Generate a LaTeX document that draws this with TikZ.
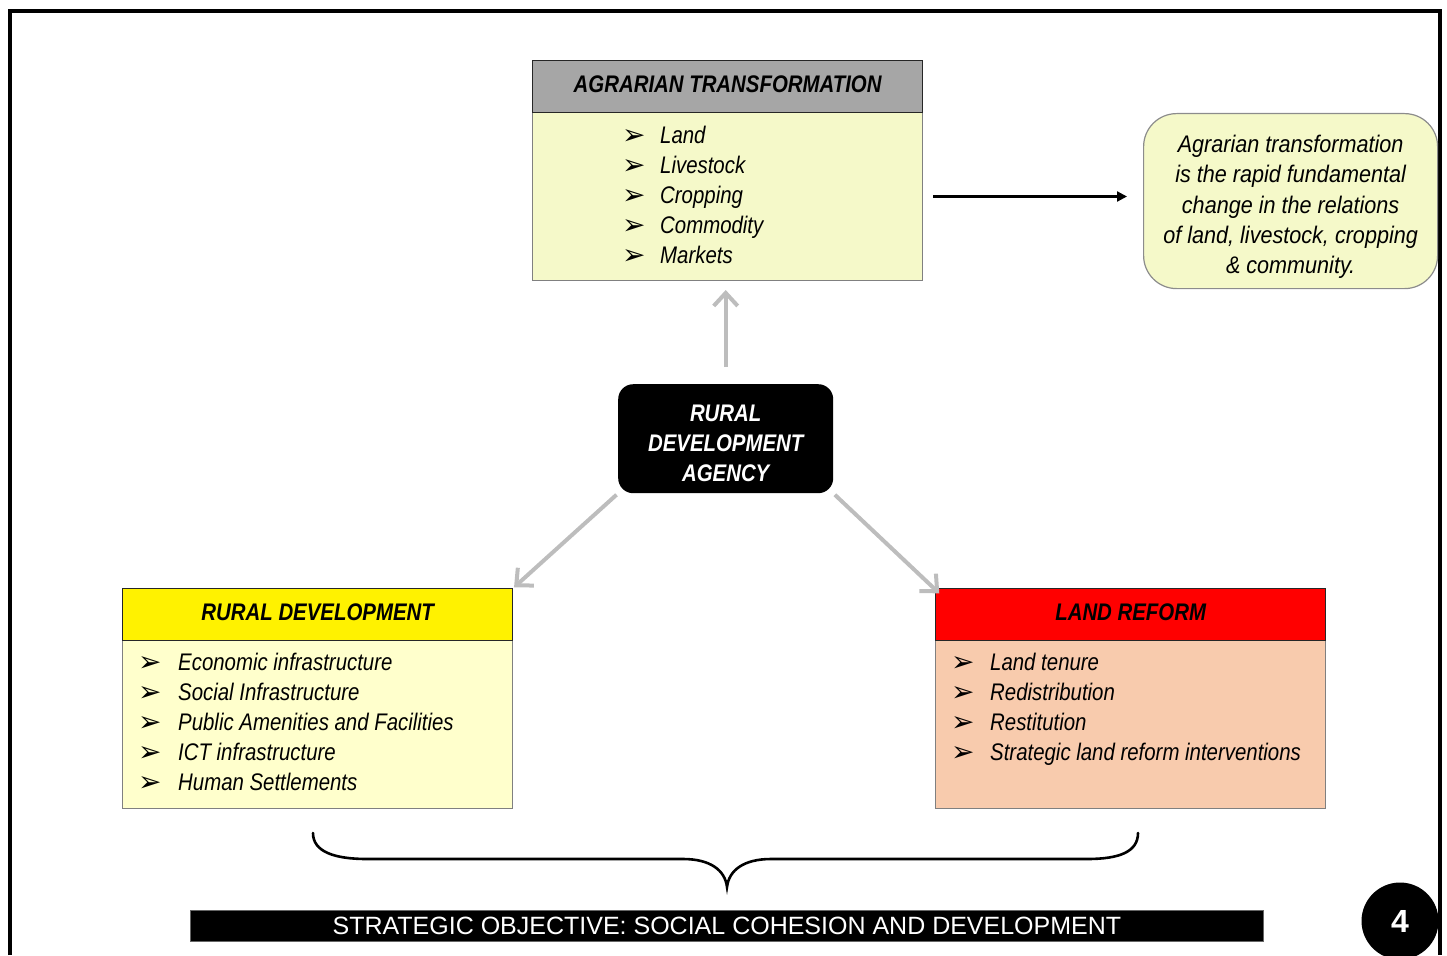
\documentclass[tikz,border=0pt]{standalone}
\usepackage{fontspec}
\setmainfont{Liberation Sans}
\newfontfamily\nf[FakeStretch=0.85]{Liberation Sans}
\newfontfamily\nfw[FakeStretch=0.9]{Liberation Sans}
\newfontfamily\bulletfont{DejaVu Sans}
\usetikzlibrary{arrows.meta}
\definecolor{hdrgray}{HTML}{A6A6A6}
\definecolor{atbody}{HTML}{F5F9C9}
\definecolor{rdbody}{HTML}{FFFFCC}
\definecolor{lrbody}{HTML}{F8CBAD}
\definecolor{arrowgray}{HTML}{BDBDBD}
\newcommand\blt{\raisebox{-1pt}{\bulletfont\fontsize{28}{28}\selectfont ➢}}
\begin{document}
\begin{tikzpicture}[x=1pt,y=-1pt,
  hdr/.style={draw=black!85, line width=1.3pt, minimum width=390pt, minimum height=52pt,
    anchor=north west, inner sep=0pt, text height=17.2pt, text depth=6pt,
    font=\nf\bfseries\itshape\fontsize{24}{30}\selectfont},
  bodybox/.style={draw=black!50, line width=1pt, minimum width=390pt, anchor=north west, inner sep=0pt},
  itemlist/.style={anchor=base west, inner sep=0pt, font=\nf\itshape\fontsize{24}{30}\selectfont},
  grayarrow/.style={draw=arrowgray, line width=4pt, -{Straight Barb[length=13pt,width=24pt]}},
  blackarrow/.style={draw=black, line width=2.2pt, -{Triangle[length=10pt,width=10pt]}}
]
\useasboundingbox (0,0) rectangle (1447,955);
% frame
\draw[line width=3.5pt] (10,955) -- (10,11) -- (1440,11) -- (1440,955);

% Agrarian transformation
\node[bodybox, fill=atbody, minimum height=168pt] (atb) at (532,112) {};
\node[hdr, fill=hdrgray] (ath) at (532,60) {AGRARIAN TRANSFORMATION};
\node[itemlist] (atl) at (622,143.3) {\begin{tabular}[t]{@{}p{38pt}@{}l@{}}
\blt & Land\\ \blt & Livestock\\ \blt & Cropping\\ \blt & Commodity\\ \blt & Markets
\end{tabular}};

% definition box
\node[draw=black!45, line width=1.2pt, fill=atbody, rounded corners=33pt, anchor=north west,
  minimum width=294pt, minimum height=175pt, inner sep=0pt, align=center,
  font=\nfw\itshape\fontsize{24}{30.4}\selectfont] (def) at (1143,113)
  {\rule{0pt}{29pt}Agrarian transformation\\is the rapid fundamental\\change in the relations\\of land, livestock, cropping\\\& community.};

% central agency
\node[fill=black, rounded corners=15pt, anchor=north west, minimum width=215pt, minimum height=109pt,
  inner sep=0pt, align=center, text=white, font=\nf\bfseries\itshape\fontsize{24}{30}\selectfont]
  (rda) at (618,384) {\rule{0pt}{25pt}RURAL\\DEVELOPMENT\\AGENCY};

% Rural development
\node[bodybox, fill=rdbody, minimum height=168pt] (rdb) at (122,640) {};
\node[hdr, fill=yellow] (rdh) at (122,588) {RURAL DEVELOPMENT};
\node[itemlist] (rdl) at (138,670.7) {\begin{tabular}[t]{@{}p{40pt}@{}l@{}}
\blt & Economic infrastructure\\ \blt & Social Infrastructure\\ \blt & Public Amenities and Facilities\\
\blt & ICT infrastructure\\ \blt & Human Settlements
\end{tabular}};

% Land reform
\node[bodybox, fill=lrbody, minimum height=168pt] (lrb) at (935,640) {};
\node[hdr, fill=red] (lrh) at (935,588) {LAND REFORM};
\node[itemlist] (lrl) at (951,670.7) {\begin{tabular}[t]{@{}p{39pt}@{}l@{}}
\blt & Land tenure\\ \blt & Redistribution\\ \blt & Restitution\\
\blt & Strategic land reform interventions
\end{tabular}};

% connectors
\draw[blackarrow, shorten <=10pt, shorten >=16pt] (atb.east) -- (atb.east -| def.west);
\draw[grayarrow, shorten <=17pt, shorten >=9pt] (rda.north) -- (rda.north |- atb.south);
\draw[grayarrow, shorten <=2pt, shorten >=1pt] (rda.south west) -- (rdh.north east);
\draw[grayarrow, shorten <=2pt, shorten >=1pt] (rda.south east) -- ([xshift=5pt,yshift=-6pt]lrh.north west);

% brace
\draw[line width=2.6pt, line cap=round] (313,833) .. controls (313,852) and (335,859) .. (367,859)
  -- (683,859) .. controls (710,859) and (725,870) .. (727,887)
  .. controls (729,870) and (744,859) .. (771,859) -- (1087,859)
  .. controls (1119,859) and (1138,852) .. (1138,833);

% objective bar
\node[fill=black, draw=black!60, line width=0.8pt, anchor=north west, minimum width=1073pt,
  minimum height=31pt, inner sep=0pt, text=white, font=\fontsize{25}{30}\selectfont]
  (bar) at (190,910) {STRATEGIC OBJECTIVE: SOCIAL COHESION AND DEVELOPMENT};

% page number
\node[circle, fill=black, minimum size=77pt, inner sep=0pt, text=white,
  font=\bfseries\fontsize{32}{32}\selectfont] (num) at (1400,921) {4};
\end{tikzpicture}
\end{document}
